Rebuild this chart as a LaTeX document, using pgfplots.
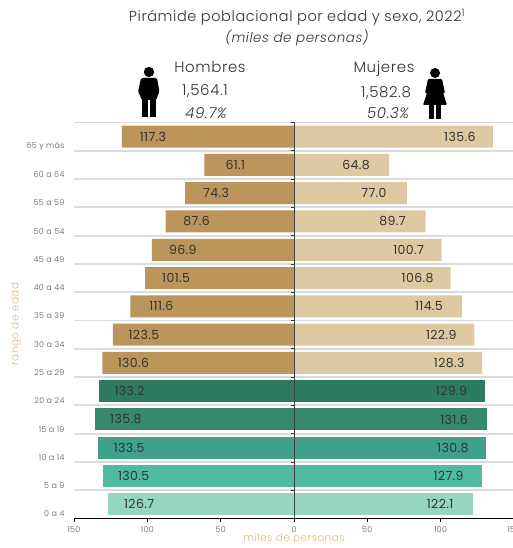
\documentclass[border=0pt]{standalone}
\usepackage{pgfplots}
\pgfplotsset{compat=1.18}
\usepackage{fontspec}
\setmainfont{Poppins}[UprightFont=* Light,ItalicFont=* Light Italic,LetterSpace=4]
\newfontfamily\numf{Poppins}[LetterSpace=3]
\definecolor{tanD}{HTML}{BB955B}
\definecolor{tanL}{HTML}{DFC9A3}
\definecolor{g1}{HTML}{2D7A63}
\definecolor{g2}{HTML}{36886F}
\definecolor{g3}{HTML}{40A18B}
\definecolor{g4}{HTML}{50BBA1}
\definecolor{g5}{HTML}{95D5C2}
\definecolor{lab}{HTML}{DBBC86}
\definecolor{txt}{HTML}{333333}
\pgfplotsset{
 /pgf/number format/assume math mode=true,
 hb/.style={xbar,bar width=22pt,bar shift=0pt,draw=none,fill=#1,point meta={-x},
   nodes near coords={\pgfmathprintnumber[fixed,fixed zerofill,precision=1,assume math mode=true]{\pgfplotspointmeta}},
   every node near coord/.append style={anchor=center,xshift=31pt,font=\fontsize{12.5}{14}\numf\selectfont,text=txt}},
 mj/.style={xbar,bar width=22pt,bar shift=0pt,draw=none,fill=#1,point meta={x},
   nodes near coords={\pgfmathprintnumber[fixed,fixed zerofill,precision=1,assume math mode=true]{\pgfplotspointmeta}},
   every node near coord/.append style={anchor=center,xshift=-33pt,font=\fontsize{12.5}{14}\numf\selectfont,text=txt}},
}
\begin{document}
\begin{tikzpicture}[x=1pt,y=1pt]
\path[use as bounding box,clip] (0,0) rectangle (513,548);
\begin{axis}[
 at={(74pt,29.5pt)},anchor=south west,scale only axis,width=440pt,height=396pt,
 xmin=-150,xmax=150,ymin=-0.5,ymax=13.5,
 axis x line*=bottom,axis y line*=left,
 y axis line style={draw=none},
 x axis line style={black,line width=0.9pt,-},
 xtick={-150,-100,-50,0,50,100,150},
 xticklabels={150,100,50,0,50,100,150},
 ytick={-0.5,0.5,...,13.5},
 yticklabels={0 a 4,5 a 9,10 a 14,15 a 19,20 a 24,25 a 29,30 a 34,35 a 39,40 a 44,45 a 49,50 a 54,55 a 59,60 a 64,65 y más,},
 ymajorgrids,
 grid style={color=black!14,line width=1.8pt},
 tick align=outside,
 major tick length=3pt,
 xtick style={black,line width=0.7pt},
 ytick style={draw=none},
 ticklabel style={text=black!65,font=\fontsize{8}{10}\selectfont},
 y tick label style={yshift=4.5pt,xshift=-3pt},
 x tick label style={yshift=-2pt},
 clip=false,
]
\addplot[hb=g5] table[x=v,y=k]{
k v
0 -126.7
};
\addplot[hb=g4] table[x=v,y=k]{
k v
1 -130.5
};
\addplot[hb=g3] table[x=v,y=k]{
k v
2 -133.5
};
\addplot[hb=g2] table[x=v,y=k]{
k v
3 -135.8
};
\addplot[hb=g1] table[x=v,y=k]{
k v
4 -133.2
};
\addplot[hb=tanD] table[x=v,y=k]{
k v
5 -130.6
6 -123.5
7 -111.6
8 -101.5
9 -96.9
10 -87.6
11 -74.3
12 -61.1
13 -117.3
};
\addplot[mj=g5] table[x=v,y=k]{
k v
0 122.1
};
\addplot[mj=g4] table[x=v,y=k]{
k v
1 127.9
};
\addplot[mj=g3] table[x=v,y=k]{
k v
2 130.8
};
\addplot[mj=g2] table[x=v,y=k]{
k v
3 131.6
};
\addplot[mj=g1] table[x=v,y=k]{
k v
4 129.9
};
\addplot[mj=tanL] table[x=v,y=k]{
k v
5 128.3
6 122.9
7 114.5
8 106.8
9 100.7
10 89.7
11 77.0
12 64.8
13 135.6
};
\draw[black!75,line width=0.9pt] (axis cs:0,-0.5) -- (axis cs:0,13.5);
\pgfplotsinvokeforeach{0.5,1.5,...,13.5}{
  \draw[black!80,line width=0.8pt] (axis cs:0,#1) -- ++(-3pt,0pt);
}
\end{axis}
\begin{scope}[shift={(0,548)},yscale=-1]
\node[font=\fontsize{14.5}{16}\selectfont,text=black!80,anchor=base] at (297,22) {Pirámide poblacional por edad y sexo, 2022\textsuperscript{1}};
\node[font=\fontsize{13.5}{16}\itshape\selectfont,text=black!80,anchor=base] at (297,43) {(miles de personas)};
\node[font=\fontsize{15}{16}\selectfont,text=black!80,anchor=base] at (210,73) {Hombres};
\node[font=\fontsize{15}{16}\selectfont,text=black!80,anchor=base] at (205,96) {1,564.1};
\node[font=\fontsize{15}{16}\itshape\selectfont,text=black!80,anchor=base] at (206,119) {49.7\%};
\node[font=\fontsize{15}{16}\selectfont,text=black!80,anchor=base] at (384,73) {Mujeres};
\node[font=\fontsize{15}{16}\selectfont,text=black!80,anchor=base] at (386,98) {1,582.8};
\node[font=\fontsize{15}{16}\itshape\selectfont,text=black!80,anchor=base] at (388,119) {50.3\%};
\node[font=\fontsize{10.5}{12}\selectfont,text=lab] at (294,538.5) {miles de personas};
\node[font=\fontsize{10.5}{12}\selectfont,text=lab,rotate=90] at (16,324) {rango de edad};
% hombre
\fill[black] (149,72) circle (5.2);
\fill[black,rounded corners=1.5] (141,78) -- (157,78) -- (159.5,92) -- (157,97) -- (157,100) -- (141,100) -- (141,97) -- (138,92) -- cycle;
\fill[black] (142,100) rectangle (148,117);
\fill[black] (150,100) rectangle (156,117);
% mujer
\fill[black] (435,73) circle (5);
\fill[black,rounded corners=1] (428,79) -- (442,79) -- (445,93) -- (443,93) -- (447,105) -- (423,105) -- (427,93) -- (425,93) -- cycle;
\fill[black] (429,105) rectangle (434,119);
\fill[black] (436,105) rectangle (441,119);
\end{scope}
\end{tikzpicture}
\end{document}
